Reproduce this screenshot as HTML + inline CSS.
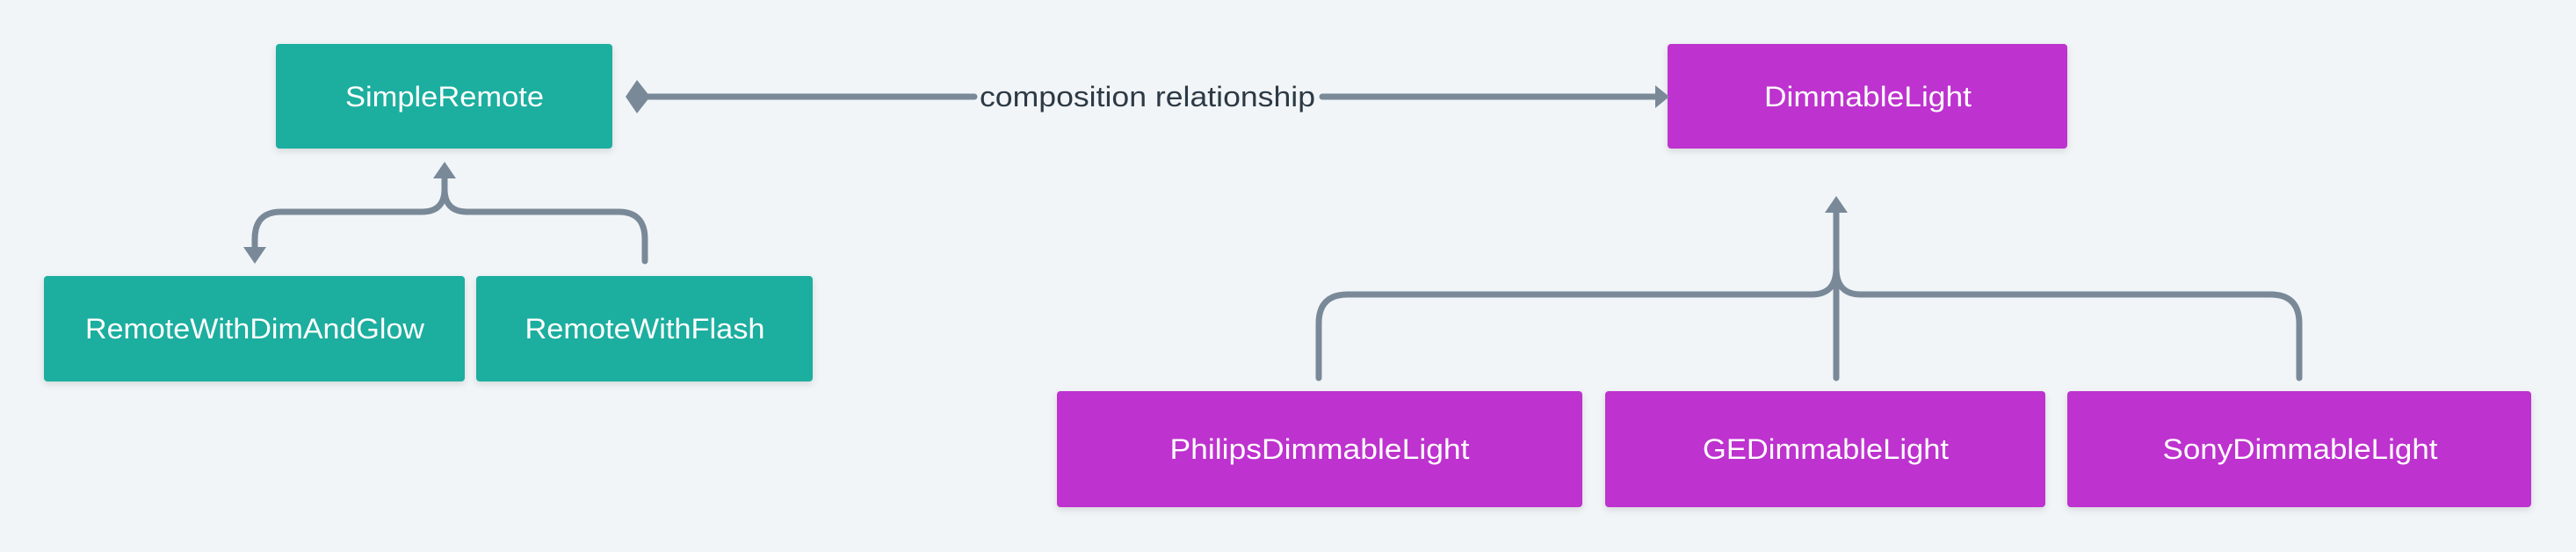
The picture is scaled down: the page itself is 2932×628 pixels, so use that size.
<!DOCTYPE html>
<html><head><style>
html,body{margin:0;padding:0;background:#F1F5F8;width:2932px;height:628px;overflow:hidden}
text{font-family:"Liberation Sans",sans-serif;font-size:32px;dominant-baseline:central;text-anchor:middle}
</style></head><body>
<svg width="2932" height="628" viewBox="0 0 2932 628" xmlns="http://www.w3.org/2000/svg">
<defs>
<filter id="sh" x="-10%" y="-10%" width="120%" height="130%"><feDropShadow dx="0" dy="3" stdDeviation="4" flood-color="#000" flood-opacity="0.12"/></filter>
</defs>
<g filter="url(#sh)">
<rect x="314" y="50" width="383" height="119" rx="4" fill="#1BAE9F"/>
<rect x="50" y="314" width="479" height="120" rx="4" fill="#1BAE9F"/>
<rect x="542" y="314" width="383" height="120" rx="4" fill="#1BAE9F"/>
<rect x="1898" y="50" width="455" height="119" rx="4" fill="#BE33CF"/>
<rect x="1203" y="445" width="598" height="132" rx="4" fill="#BE33CF"/>
<rect x="1827" y="445" width="501" height="132" rx="4" fill="#BE33CF"/>
<rect x="2353" y="445" width="528" height="132" rx="4" fill="#BE33CF"/>
</g>
<g fill="none" stroke="#7A8998" stroke-width="7" stroke-linecap="round" stroke-linejoin="round">
<line x1="738" y1="110" x2="1109" y2="110"/>
<line x1="1505" y1="110" x2="1888" y2="110"/>
<path d="M290 285 V272 Q290 241 320 241 H480 Q506 241 506 215 V198"/>
<path d="M734 297 V272 Q734 241 704 241 H532 Q506 241 506 215"/>
<path d="M1501 430 V368 Q1501 335 1534 335 H2062 Q2090 335 2090 305"/>
<path d="M2617 430 V368 Q2617 335 2584 335 H2118 Q2090 335 2090 305"/>
<line x1="2090" y1="236" x2="2090" y2="430"/>
</g>
<g fill="#7A8998">
<polygon points="712,110 725,91 740,110 725,129"/>
<polygon points="1900,110 1884,97 1884,123"/>
<polygon points="506,184 493,203 519,203"/>
<polygon points="290,300 277,281 303,281"/>
<polygon points="2090,223 2077,242 2103,242"/>
</g>
<text x="1306" y="110" fill="#2D3A45" textLength="382" lengthAdjust="spacingAndGlyphs">composition relationship</text>
<g fill="#fff">
<text x="506" y="110" textLength="226" lengthAdjust="spacingAndGlyphs">SimpleRemote</text>
<text x="290" y="374" textLength="386" lengthAdjust="spacingAndGlyphs">RemoteWithDimAndGlow</text>
<text x="734" y="374" textLength="273" lengthAdjust="spacingAndGlyphs">RemoteWithFlash</text>
<text x="2126" y="110" textLength="236" lengthAdjust="spacingAndGlyphs">DimmableLight</text>
<text x="1502" y="511" textLength="341" lengthAdjust="spacingAndGlyphs">PhilipsDimmableLight</text>
<text x="2078" y="511" textLength="280" lengthAdjust="spacingAndGlyphs">GEDimmableLight</text>
<text x="2618" y="511" textLength="313" lengthAdjust="spacingAndGlyphs">SonyDimmableLight</text>
</g>
</svg>
</body></html>
